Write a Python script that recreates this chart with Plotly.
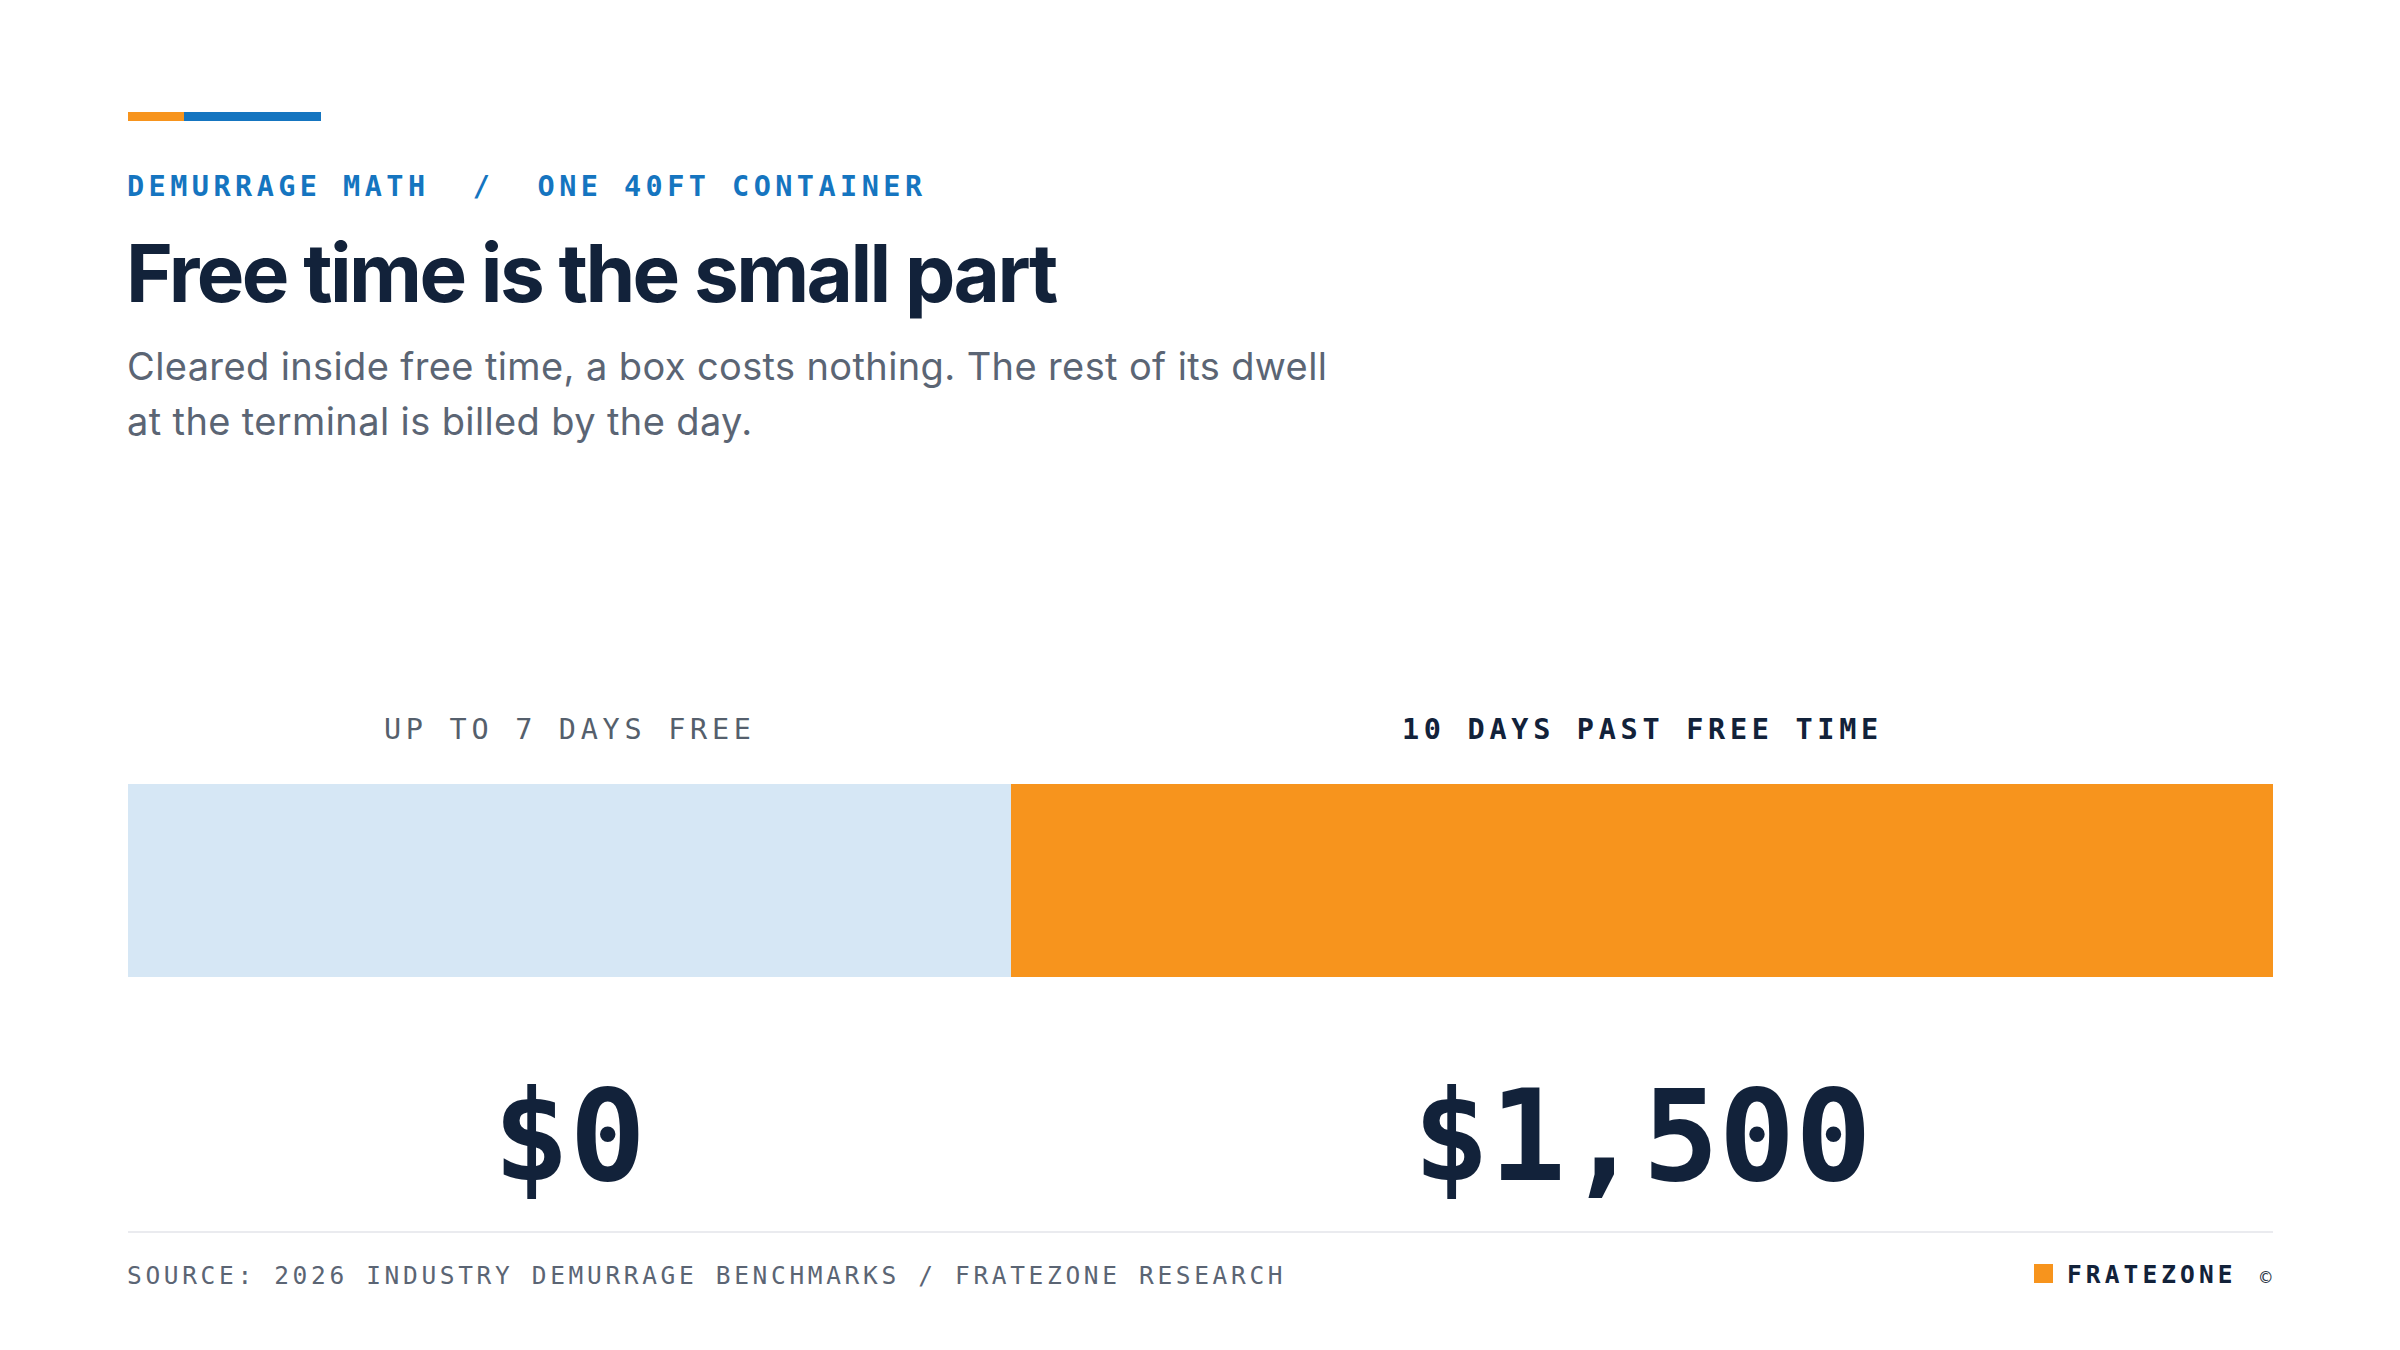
import numpy as np
import plotly.graph_objects as go

W, H = 2400, 1350

# ---- data ----
categories = ["UP TO 7 DAYS FREE", "10 DAYS PAST FREE TIME"]
days = [7, 10]
costs = [0, 1500]

# ---- styles ----
bar_colors = ["#d6e7f5", "#f7941d"]
label_colors = ["#555f6c", "#12223a"]
label_bold = [False, True]
NAVY = "#12223a"
GRAY = "#5b6574"
BLUE = "#1575c0"
ORANGE = "#f7941d"
MONO = "DejaVu Sans Mono"
SANS = "Inter"


def px(x):
    return x / W


def py(y):
    return 1 - y / H


def spaced(t, ls):
    return f'<span style="letter-spacing:{ls}px">{t}</span>'


bases = np.concatenate([[0], np.cumsum(days)[:-1]])
total = float(np.sum(days))

fig = go.Figure()
for cat, d, b, col in zip(categories, days, bases, bar_colors):
    fig.add_trace(go.Bar(
        x=[d], y=[0], base=[b], orientation="h", width=1,
        marker=dict(color=col, line=dict(width=0)),
        hoverinfo="skip", showlegend=False, name=cat,
    ))

ann = []
shapes = []

# accent bars
shapes.append(dict(type="rect", xref="paper", yref="paper", x0=px(128), x1=px(184),
                   y0=py(121), y1=py(112), fillcolor=ORANGE, line=dict(width=0)))
shapes.append(dict(type="rect", xref="paper", yref="paper", x0=px(184), x1=px(321),
                   y0=py(121), y1=py(112), fillcolor=BLUE, line=dict(width=0)))

common = dict(showarrow=False, borderpad=0, borderwidth=0)

# eyebrow
ann.append(dict(xref="paper", yref="paper", x=px(127), y=py(186.5), xanchor="left", yanchor="middle",
                text=spaced("DEMURRAGE MATH\u00a0\u00a0/\u00a0\u00a0ONE 40FT CONTAINER", 4.45),
                font=dict(family=MONO, size=28.5, color=BLUE, weight=700), **common))
# title
ann.append(dict(xref="paper", yref="paper", x=px(126), y=py(272), xanchor="left", yanchor="middle",
                text=spaced("Free time is the small part", -2.6),
                font=dict(family=SANS, size=80, color=NAVY, weight=700), **common))
# subtitle lines
sub_lines = ["Cleared inside free time, a box costs nothing. The rest of its dwell",
             "at the terminal is billed by the day."]
for i, line in enumerate(sub_lines):
    ann.append(dict(xref="paper", yref="paper", x=px(127), y=py(366 + 55 * i), xanchor="left", yanchor="middle",
                    text=spaced(line, 0.38), font=dict(family=SANS, size=38, color=GRAY), **common))

# bar labels and values
for cat, d, b, c, lc, bold in zip(categories, days, bases, costs, label_colors, label_bold):
    ann.append(dict(xref="x", yref="paper", x=b + d / 2, y=py(729.5), xanchor="center", yanchor="middle",
                    text=spaced(cat, 4.7),
                    font=dict(family=MONO, size=28.5, color=lc, weight=700 if bold else 400), **common))
    ann.append(dict(xref="x", yref="paper", x=b + d / 2, y=py(1135.5), xanchor="center", yanchor="middle",
                    text=f"${c:,}",
                    font=dict(family=MONO, size=127, color=NAVY, weight=700), **common))

# divider
shapes.append(dict(type="line", xref="paper", yref="paper", x0=px(128), x1=px(2273),
                   y0=py(1232), y1=py(1232), line=dict(color="#e3e5ea", width=1.5)))

# source
ann.append(dict(xref="paper", yref="paper", x=px(127), y=py(1275), xanchor="left", yanchor="middle",
                text=spaced("SOURCE: 2026 INDUSTRY DEMURRAGE BENCHMARKS / FRATEZONE RESEARCH", 3.65),
                font=dict(family=MONO, size=24.5, color=GRAY), **common))

# brand
shapes.append(dict(type="rect", xref="paper", yref="paper", x0=px(2034), x1=px(2053),
                   y0=py(1283), y1=py(1264), fillcolor=ORANGE, line=dict(width=0)))
ann.append(dict(xref="paper", yref="paper", x=px(2067), y=py(1274), xanchor="left", yanchor="middle",
                text=spaced("FRATEZONE", 4.1),
                font=dict(family=MONO, size=24.5, color=NAVY, weight=700), **common))
ann.append(dict(xref="paper", yref="paper", x=px(2272), y=py(1277), xanchor="right", yanchor="middle",
                text="\u00a9", font=dict(family=MONO, size=19, color="#2a3545"), **common))

fig.update_layout(
    width=W, height=H,
    margin=dict(l=0, r=0, t=0, b=0),
    paper_bgcolor="white", plot_bgcolor="white",
    barmode="overlay", bargap=0,
    xaxis=dict(domain=[px(128), px(2273)], range=[0, total], visible=False, fixedrange=True),
    yaxis=dict(domain=[py(977), py(784)], range=[-0.5, 0.5], visible=False, fixedrange=True),
    annotations=ann, shapes=shapes,
    showlegend=False,
)

fig.write_html("out.html", config={"displayModeBar": False},
               post_script="document.body.style.margin='0';document.body.style.overflow='hidden';")
